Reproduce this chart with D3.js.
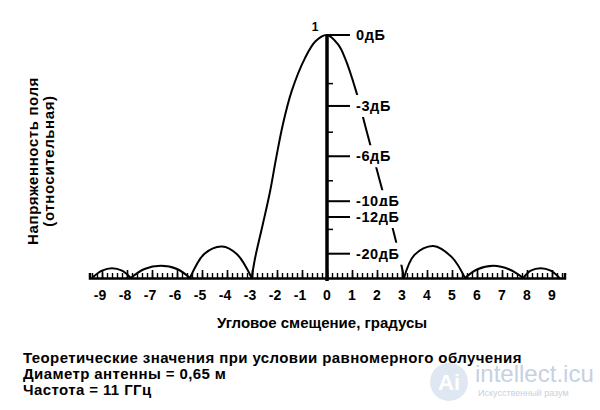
<!DOCTYPE html>
<html>
<head>
<meta charset="utf-8">
<script src="https://cdn.jsdelivr.net/npm/d3@7"></script>
<style>
  html, body { margin: 0; padding: 0; background: #fff; }
  svg { display: block; }
  text { font-family: "Liberation Sans", Arial, sans-serif; }
</style>
</head>
<body>
<svg id="chart" width="600" height="410"></svg>
<script>
// ---- data ----
// each lobe: [angle in degrees, relative field strength]
const lobeLeft3  = [[-9.4, 0], [-9.0, 0.03], [-8.6, 0.04], [-8.2, 0.03], [-7.85, 0]];
const lobeLeft2  = [[-7.85, 0], [-7.3, 0.037], [-6.65, 0.05], [-6.0, 0.037], [-5.48, 0]];
const lobeLeft1  = [[-5.48, 0], [-4.9, 0.1], [-4.2, 0.13], [-3.6, 0.098], [-3.01, 0]];
const mainLobe   = [[-3.01, 0], [-2.88, 0.08], [-2.57, 0.22], [-2.28, 0.355], [-2.04, 0.49],
                    [-1.77, 0.63], [-1.41, 0.77], [-0.88, 0.905], [-0.45, 0.975], [0, 1],
                    [0.45, 0.96], [0.72, 0.905], [1.16, 0.77], [1.52, 0.63], [1.88, 0.49],
                    [2.23, 0.355], [2.59, 0.22], [2.92, 0.08], [3.08, 0]];
const lobeRight1 = [[3.08, 0], [3.5, 0.095], [4.25, 0.132], [5.0, 0.085], [5.52, 0]];
const lobeRight2 = [[5.52, 0], [6.0, 0.035], [6.65, 0.05], [7.3, 0.035], [7.85, 0]];
const lobeRight3 = [[7.85, 0], [8.15, 0.03], [8.55, 0.04], [8.95, 0.03], [9.3, 0]];

const xTickValues = [-9, -8, -7, -6, -5, -4, -3, -2, -1, 0, 1, 2, 3, 4, 5, 6, 7, 8, 9];
const dbLabels = ["0дБ", "-3дБ", "-6дБ", "-10дБ", "-12дБ", "-20дБ"];
const dbValues = [1, 0.708, 0.501, 0.316, 0.251, 0.1];
const minorYTicks = [0.2, 0.4, 0.6, 0.8];
const peakLabel = "1";
const xTitle = "Угловое смещение, градусы";
const yTitleLines = ["Напряженность поля", "(относительная)"];
const noteLines = ["Теоретические значения при условии равномерного облучения",
                   "Диаметр антенны = 0,65 м",
                   "Частота = 11 ГГц"];

// ---- drawing ----
const svg = d3.select("#chart");
svg.append("rect").attr("width", 600).attr("height", 410).attr("fill", "#fff");

const x = d3.scaleLinear().domain([-9.5, 9.5]).range([89.5, 564.5]);
const y = d3.scaleLinear().domain([0, 1]).range([278, 35]);

// x axis: baseline with ticks every 0.2 degree pointing up
const minorX = d3.range(-94, 95, 2).map(v => v / 10);
const xAxisMinor = d3.axisTop(x).tickValues(minorX).tickSize(5).tickFormat("");
const gxm = svg.append("g").attr("transform", `translate(0,${y(0)})`).call(xAxisMinor);
gxm.select(".domain").attr("stroke", "#000").attr("stroke-width", 2.5);
gxm.selectAll(".tick line").attr("stroke", "#000").attr("stroke-width", 1.4);

const xAxisMajor = d3.axisTop(x).tickValues(xTickValues).tickSize(8).tickFormat("");
const gxM = svg.append("g").attr("transform", `translate(0,${y(0)})`).call(xAxisMajor);
gxM.select(".domain").remove();
gxM.selectAll(".tick line").attr("stroke", "#000").attr("stroke-width", 1.6);

svg.append("g").selectAll("text").data(xTickValues).join("text")
  .attr("x", d => x(d) - (d < 0 ? 2 : 0))
  .attr("y", 300)
  .attr("text-anchor", "middle")
  .attr("font-size", 14).attr("font-weight", "bold")
  .text(d => d);

// lobes
const line = d3.line().x(d => x(d[0])).y(d => y(d[1])).curve(d3.curveCatmullRom.alpha(0.5));
const lobes = [lobeLeft3, lobeLeft2, lobeLeft1, mainLobe, lobeRight1, lobeRight2, lobeRight3];
svg.append("g").selectAll("path").data(lobes).join("path")
  .attr("d", line)
  .attr("fill", "none").attr("stroke", "#000").attr("stroke-width", 2);

// vertical axis at 0
svg.append("line")
  .attr("x1", x(0)).attr("x2", x(0))
  .attr("y1", y(1)).attr("y2", y(0) + 3)
  .attr("stroke", "#000").attr("stroke-width", 3.5);

// minor y ticks
svg.append("g").selectAll("line").data(minorYTicks).join("line")
  .attr("x1", x(0)).attr("x2", x(0) + 6)
  .attr("y1", d => y(d)).attr("y2", d => y(d))
  .attr("stroke", "#000").attr("stroke-width", 1.5);

// dB labels with white background (curve passes behind them)
const dbG = svg.append("g").selectAll("g").data(dbValues).join("g");
dbG.append("rect")
  .attr("x", 353).attr("y", d => y(d) - 11)
  .attr("width", 52).attr("height", 22)
  .attr("fill", (d, i) => i === 0 ? "none" : "#fff");
dbG.append("line")
  .attr("x1", x(0)).attr("x2", x(0) + 23)
  .attr("y1", d => y(d)).attr("y2", d => y(d))
  .attr("stroke", "#000").attr("stroke-width", 2);
dbG.append("text")
  .attr("x", 356).attr("y", d => y(d) + 5)
  .attr("font-size", 14.5).attr("font-weight", "bold").attr("letter-spacing", 0.6)
  .text((d, i) => dbLabels[i]);

// peak label
svg.append("text").attr("x", 315).attr("y", 31)
  .attr("text-anchor", "middle").attr("font-size", 12).attr("font-weight", "bold")
  .text(peakLabel);

// titles
svg.append("text").attr("x", 322).attr("y", 328)
  .attr("text-anchor", "middle").attr("font-size", 15).attr("font-weight", "bold")
  .text(xTitle);

yTitleLines.forEach((t, i) => {
  svg.append("text")
    .attr("transform", `translate(${38 + i * 16},161) rotate(-90)`)
    .attr("text-anchor", "middle").attr("font-size", 15)
    .attr("font-weight", "bold").attr("letter-spacing", 0.6)
    .text(t);
});

noteLines.forEach((t, i) => {
  svg.append("text").attr("x", 23).attr("y", 363 + i * 16)
    .attr("font-size", 15).attr("font-weight", "bold").attr("letter-spacing", 0.4)
    .text(t);
});

// watermark
const wm = svg.append("g");
wm.append("circle").attr("cx", 449).attr("cy", 382).attr("r", 19).attr("fill", "#dfe7f3");
wm.append("text").attr("x", 449).attr("y", 390).attr("text-anchor", "middle")
  .attr("font-size", 22).attr("font-weight", "bold").attr("fill", "#fff").text("Ai");
wm.append("text").attr("x", 475).attr("y", 382)
  .attr("font-family", "'Open Sans', sans-serif").attr("font-size", 24).attr("fill", "#c7d1e1")
  .text("intellect.icu");
wm.append("text").attr("x", 478).attr("y", 396)
  .attr("font-family", "'Open Sans', sans-serif").attr("font-size", 9).attr("fill", "#c7d1e1")
  .text("Искусственный разум");
</script>
</body>
</html>
